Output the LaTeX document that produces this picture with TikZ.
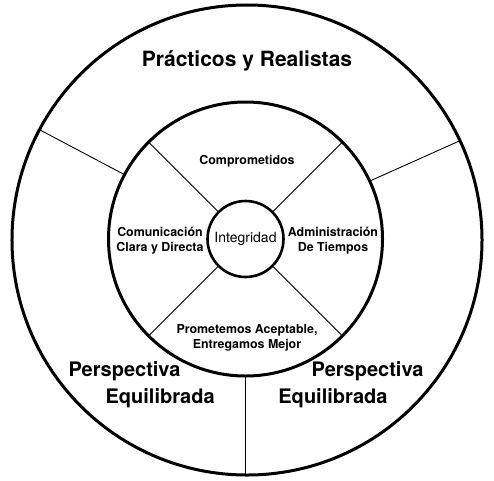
\documentclass[tikz,border=0pt]{standalone}
\usepackage{fontspec}
\setmainfont{TeX Gyre Heros}

\begin{document}
\begin{tikzpicture}[x=1pt,y=1pt,
	ring/.style={draw, circle, line width=3pt, outer sep=0pt, inner sep=0pt},
	spoke/.style={line width=0.9pt},
	big/.style={font=\fontsize{21}{25}\selectfont\bfseries},
	side/.style={font=\fontsize{20}{27}\selectfont\bfseries},
	small/.style={font=\fontsize{12.4}{15.5}\selectfont\bfseries, align=center}]
	\def \router{ 470 };
	\def \rmid{ 274 };
	\def \rinner{ 76 };
	\useasboundingbox (-247,-240) rectangle (247,240);
	% circles
	\node[ring] (outer) at (0,0) [minimum size=\router] {};
	\node[ring] (mid) at (-1.5,1) [minimum size=\rmid] {};
	\node[ring, line width=2.6pt, font=\fontsize{14}{16}\selectfont] (inner) at (-1.5,1) [minimum size=\rinner] {Integridad};
	% spokes
	\draw[spoke] (inner.45) -- (mid.45);
	\draw[spoke] (inner.135) -- (mid.135);
	\draw[spoke] (inner.225) -- (mid.225);
	\draw[spoke] (inner.315) -- (mid.315);
	\draw[spoke] (mid.152.5) -- (outer.152.5);
	\draw[spoke] (mid.25.5) -- (outer.25.5);
	\draw[spoke] (mid.south) -- (mid.south |- outer.south);
	% labels
	\node[big] (practicos) at (0,179) {Prácticos y Realistas};
	\node[small] (compro) at (0,79) {Comprometidos};
	\node[small] (comun) at (-87,-0.5) {Comunicación\\Clara y Directa};
	\node[small] (admin) at (86,-0.5) {Administración\\De Tiempos};
	\node[small] (prome) at (0,-98) {Prometemos Aceptable,\\Entregamos Mejor};
	\node[side, align=left, anchor=west] (perspl) at (-182,-144.5) {Perspectiva\\\hspace*{37pt}Equilibrada};
	\node[side, align=right, anchor=east] (perspr) at (180,-144.5) {Perspectiva\\Equilibrada\hspace*{36pt}};
\end{tikzpicture}
\end{document}
